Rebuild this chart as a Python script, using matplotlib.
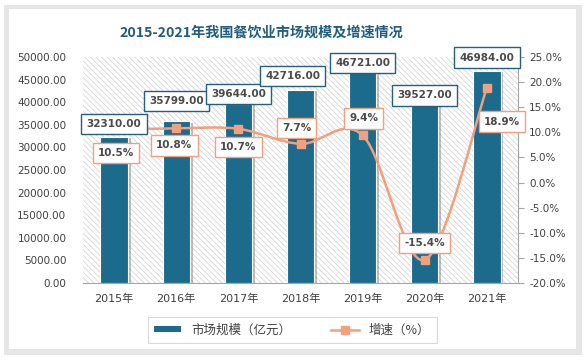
import matplotlib
matplotlib.use('Agg')
import matplotlib.pyplot as plt
import matplotlib.patheffects as pe
from matplotlib.patches import Rectangle, PathPatch
from matplotlib.path import Path
from matplotlib.lines import Line2D
import numpy as np

plt.rcParams['font.family'] = ['DejaVu Sans', 'Noto Sans CJK SC']

# ── Data ─────────────────────────────────────────────────────────────────────
years = ['2015年', '2016年', '2017年', '2018年', '2019年', '2020年', '2021年']
market = [32310.00, 35799.00, 39644.00, 42716.00, 46721.00, 39527.00, 46984.00]
growth = [10.5, 10.8, 10.7, 7.7, 9.4, -15.4, 18.9]

# label offsets in pixels (x, y) from bar top / line point
bar_off = [(0, 13), (0, 20), (0, 10), (-8, 14), (0, 9), (0, 9), (0, 13)]
line_off = [(2, -23), (-2, -17), (0, -18), (-4, 16), (1, 17), (0, 17), (15, -34)]

BAR = '#1c6a8c'
LINE = '#f0a07c'
MARK = '#f2a07e'
TXT = '#404040'

W, H = 586, 360
fig = plt.figure(figsize=(W / 100, H / 100), dpi=100)
fig.patch.set_facecolor('white')

# panel with soft shadow
fig.patches.append(Rectangle((4 / W, 5 / H), 578 / W, 350 / H, transform=fig.transFigure,
                             facecolor='#e6e6e6', edgecolor='none', zorder=-3))
fig.patches.append(Rectangle((9 / W, 11 / H), 567 / W, 340 / H, transform=fig.transFigure,
                             facecolor='white', edgecolor='none', zorder=-2))

ax = fig.add_axes([83 / W, 1 - 283 / H, 435 / W, 226 / H])
ax2 = ax.twinx()
ax.set_zorder(ax2.get_zorder() - 1)
ax2.patch.set_visible(False)
ax.patch.set_visible(False)

plt.rcParams['hatch.linewidth'] = 0.6
ax.add_patch(Rectangle((0, 0), 1, 1, transform=ax.transAxes, facecolor='white',
                       edgecolor='#d6d6d6', hatch='\\\\\\\\\\\\', linewidth=0, zorder=0))

x = np.arange(len(years))
bars = ax.bar(x, market, 0.44, color=BAR, edgecolor='white', linewidth=0.8, zorder=2)
for b in bars:
    b.set_path_effects([pe.SimplePatchShadow(offset=(2, -1), shadow_rgbFace='#808080', alpha=0.5),
                        pe.Normal()])

ax.set_xlim(-0.5, len(years) - 0.5)
ax.set_ylim(0, 50000)
ax.set_yticks(np.arange(0, 50001, 5000))
ax.set_yticklabels([f'{v:.2f}' for v in np.arange(0, 50001, 5000)])
ax.set_xticks(x)
ax.set_xticklabels(years, fontsize=8, color=TXT)
ax.tick_params(axis='y', length=0, labelsize=7.5, labelcolor=TXT, pad=12)
ax.tick_params(axis='x', length=0, pad=8)
for s in ['top', 'left', 'right']:
    ax.spines[s].set_visible(False)
ax.spines['bottom'].set_color('#a6a6a6')

ax2.set_ylim(-20, 25)
ax2.set_yticks(np.arange(-20, 26, 5))
ax2.set_yticklabels([f'{v:.1f}%' for v in np.arange(-20, 26, 5)])
ax2.tick_params(axis='y', length=4, color='#a6a6a6', labelsize=7.5, labelcolor=TXT, pad=4)
for s in ['top', 'left', 'bottom']:
    ax2.spines[s].set_visible(False)
ax2.spines['right'].set_color('#a6a6a6')

# smoothed growth line (Catmull-Rom as cubic Bezier)
pts = np.column_stack([x, growth]).astype(float)
verts = [tuple(pts[0])]
codes = [Path.MOVETO]
for i in range(len(pts) - 1):
    p0 = pts[i - 1] if i > 0 else pts[i]
    p1, p2 = pts[i], pts[i + 1]
    p3 = pts[i + 2] if i + 2 < len(pts) else pts[i + 1]
    verts += [tuple(p1 + (p2 - p0) / 6), tuple(p2 - (p3 - p1) / 6), tuple(p2)]
    codes += [Path.CURVE4] * 3
ax2.add_patch(PathPatch(Path(verts, codes), facecolor='none', edgecolor=LINE, linewidth=1.8, zorder=3))
ax2.plot(x, growth, linestyle='none', marker='s', markersize=6, color=MARK, zorder=4)

# bar labels drawn on ax2 (above the line) but positioned with ax data coords
for xi, v, (dx, dy) in zip(x, market, bar_off):
    ax2.annotate(f'{v:.2f}', (xi, v), xycoords=ax.transData, xytext=(dx, dy), textcoords='offset pixels',
                 ha='center', va='center', fontsize=7.5, fontweight='bold', color='#4a4a4a', zorder=7,
                 bbox=dict(boxstyle='square,pad=0.5', facecolor='white', edgecolor='#24607c', linewidth=1.0))
for xi, v, (dx, dy) in zip(x, growth, line_off):
    ax2.annotate(f'{v:.1f}%', (xi, v), xytext=(dx, dy), textcoords='offset pixels',
                 ha='center', va='center', fontsize=7.5, fontweight='bold', color='#4a4a4a', zorder=6,
                 bbox=dict(boxstyle='square,pad=0.5', facecolor='white', edgecolor=LINE, linewidth=1.0))

fig.text(261 / W, 1 - 32 / H, '2015-2021年我国餐饮业市场规模及增速情况', ha='center', va='center',
         fontsize=10.2, fontweight='bold', color='#225e7c', family=['Noto Sans CJK SC', 'DejaVu Sans'])

handles = [Rectangle((0, 0), 1, 1, facecolor=BAR, edgecolor='none'),
           Line2D([], [], color=LINE, linewidth=1.8, marker='s', markersize=6, markerfacecolor=MARK,
                  markeredgecolor=MARK)]
leg = fig.legend(handles, ['市场规模（亿元）', '增速（%）'], loc='center', ncol=2,
                 bbox_to_anchor=(292 / W, 1 - 330 / H), frameon=True, fancybox=False,
                 edgecolor='#d0d0d0', fontsize=9, handlelength=2.2, handleheight=0.4,
                 columnspacing=3.2, borderpad=0.5, labelcolor=TXT,
                 prop={'family': ['Noto Sans CJK SC', 'DejaVu Sans'], 'size': 9})
leg.get_frame().set_linewidth(0.8)

fig.savefig('out.png', dpi=100)
